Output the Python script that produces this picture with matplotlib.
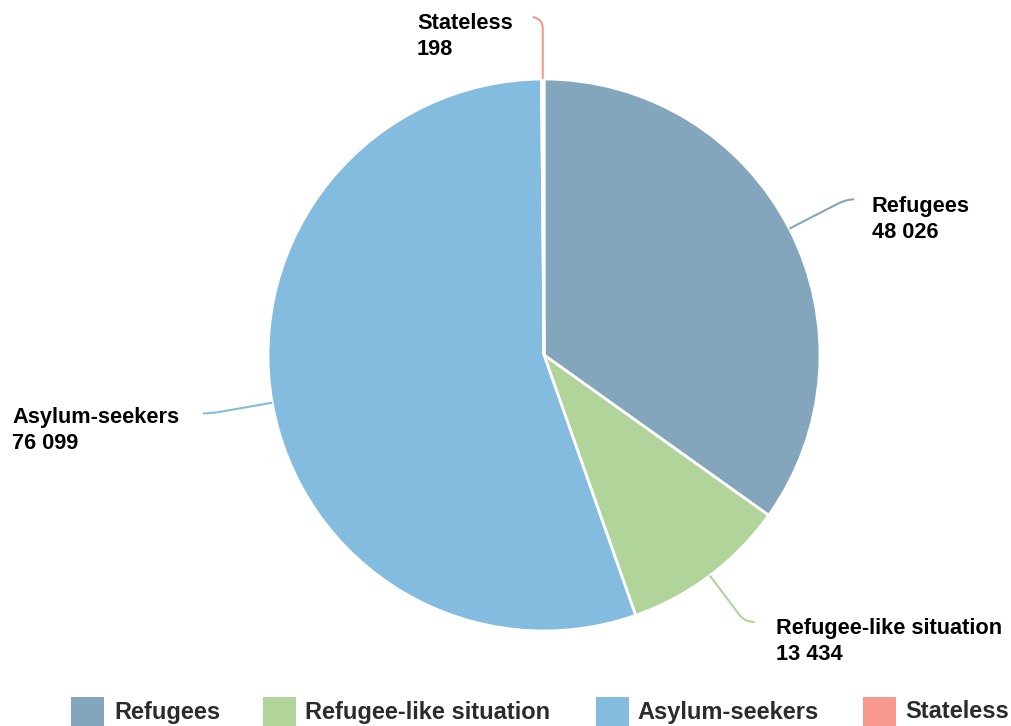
import matplotlib
matplotlib.use("Agg")
import matplotlib.pyplot as plt
from matplotlib.path import Path
from matplotlib.patches import PathPatch, Rectangle, Wedge
import numpy as np

categories = ["Refugees", "Refugee-like situation", "Asylum-seekers", "Stateless"]
values = [48026, 13434, 76099, 198]
value_labels = ["48 026", "13 434", "76 099", "198"]
colors = ["#84a6bd", "#b0d49a", "#84bcdf", "#f8988e"]

W, H = 1012, 726
fig = plt.figure(figsize=(W / 100, H / 100), dpi=100)
ax = fig.add_axes([0, 0, 1, 1])
ax.set_xlim(0, W)
ax.set_ylim(H, 0)
ax.axis("off")

plt.rcParams["font.family"] = ["Liberation Sans", "DejaVu Sans"]

cx, cy, r = 544, 355, 276
total = sum(values)
cum = 0
mids = []
for v, c in zip(values, colors):
    a1 = 90 - 360 * cum / total
    a0 = 90 - 360 * (cum + v) / total
    w = Wedge((cx, cy), r, -a1, -a0, facecolor=c, edgecolor="white", linewidth=2)
    ax.add_patch(w)
    mids.append(90 - 360 * (cum + v / 2) / total)
    cum += v

# (elbow radius extension, horizontal length, text x, text top y)
layout = [
    (64, 8, 872, 196),
    (58, 10, 776, 618),
    (62, -8, 12, 407),
    (60, -10, 417, 13),
]
for i, (cat, vl, col, m) in enumerate(zip(categories, value_labels, colors, mids)):
    ext, hl, tx, ty = layout[i]
    th = np.deg2rad(m)
    p0 = (cx + r * np.cos(th), cy - r * np.sin(th))
    p1 = (cx + (r + ext) * np.cos(th), cy - (r + ext) * np.sin(th))
    pa = (cx + (r + ext * 0.85) * np.cos(th), cy - (r + ext * 0.85) * np.sin(th))
    p2 = (p1[0] + hl, p1[1])
    if i == 3:
        pa = (p0[0], p0[1] - ext * 0.85)
        p1 = (p0[0], p0[1] - ext)
        p2 = (p1[0] + hl, p1[1] - 2)
    path = Path([p0, pa, p1, p2], [Path.MOVETO, Path.LINETO, Path.CURVE3, Path.CURVE3])
    ax.add_patch(PathPatch(path, facecolor="none", edgecolor=col, linewidth=1.5))
    ax.text(tx, ty, f"{cat}\n{vl}", ha="left", va="top", fontsize=15.7,
            fontweight="bold", color="black", linespacing=1.33)

# legend
leg_sq_x = [71, 263, 596, 863]
leg_tx_x = [114, 305, 637, 905]
for cat, c, sx, tx in zip(categories, colors, leg_sq_x, leg_tx_x):
    ax.add_patch(Rectangle((sx, 697), 33, 30, facecolor=c, edgecolor="none"))
    ax.text(tx, 712, cat, ha="left", va="center", fontsize=17,
            fontweight="bold", color="#2b2b2b")

fig.savefig("out.png", dpi=100)
